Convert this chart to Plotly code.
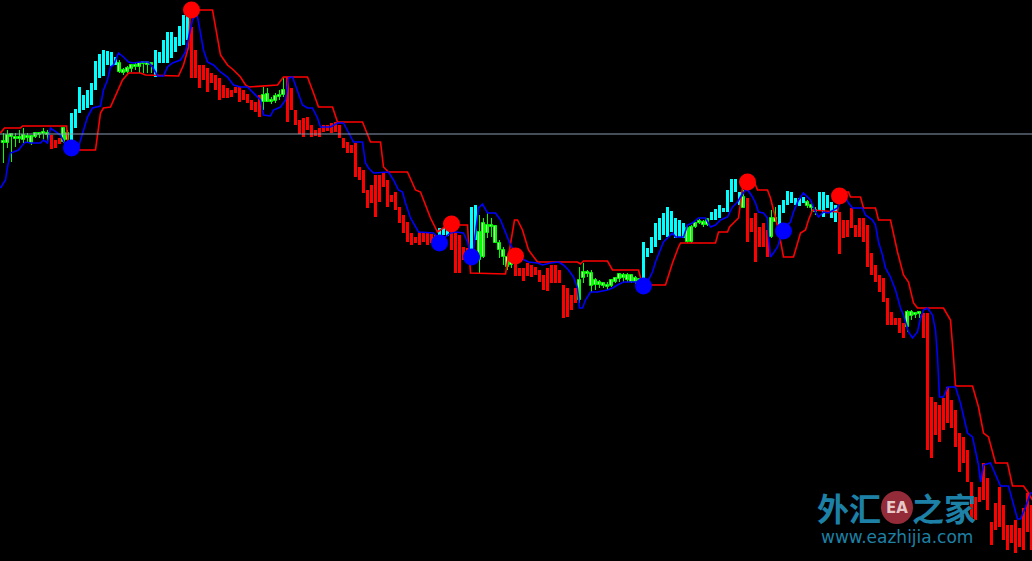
import plotly.graph_objects as go

# ---- bar states: g = plain candle, r = down-trend bar, c = up-trend bar ----
trend = ("gggggggggggg" "rrr" "gg" "cccccccccccc" "ggggggggg" "ccccccccc"
         "rrrrrrrrrrrrrrrrrr" "gggggg"
         "rrrrrrrrrr" "rrrrrrrrrr" "rrrrrrrrrr" "rrrrrrrr"
         "ccc" "rrrrr" "cc" "ggggggggg" "rrrrrrrrrr" "rrrrrr"
         "gggggggggg" "gggggg" "cccccccccc" "c" "gggggg" "cccccccc" "g"
         "rrrrrr" "gg" "ccccccc" "ggg" "ccccc" "rrrrrrrrrr" "rrrrrrr" "gggg"
         "rrrrrrrrrr" "rrrrrrrrrr" "rrrrrrrr")

opens = [418,426,424,422,424,421,425,418,424,426,428,426,
         426,421,423, 419,428,
         421,433,448,451,453,456,471,483,485,496,495,496,
         489,491,489,492,494,494,497,499,496,
         484,498,498,498,503,509,515,516,521,
         534,511,496,496,493,488,486,483,476,473,471,474,474,471,467,461,459,466,
         459,467,459,460,464,466,
         484,473,451,441,443,444,436,431,433,436,436,438,439,436,423,419,416,418,394,391,
         371,376,386,386,388,381,366,369,354,346,339,328,324,329,329,328,327,326,
         323,326,325, 331,328,326,314,313, 304,321,
         301,304,328,336,335,318,311,304,303,
         301,293,293,298,296,294,291,286,293,296,296,291,276,273,266,273,
         261,283,287,288,276,279,275,276,275,279,282,286,281,286,283,282,
         278,304,308,314,321,326,324,329,323,324,323,
         319,319,334,338,339,336,
         341,341,343,349,349,359,369,356, 364,
         363,343,348,334,338,331, 324,339,
         331,348,356,358,356,355,358, 355,356,351, 351,344,353,343,339,
         349,341,341,353,336,343,343,336,308,296,286,283,263,249,243,243,238,
         234,245,246,247,
         248,248,164,159,156,163,174,161,151,128,124,111,79,64,74,98,83,39,58,74,
         56,36,36,41,33,53,68,56]

closes = [420,418,427,424,422,426,423,425,428,428,427,428,
          412,413,417, 433,421,
          448,452,474,466,471,478,500,507,511,510,509,504,
          498,488,493,496,496,498,499,496,497,
          511,509,521,529,529,524,535,546,548,
          483,483,473,481,469,478,471,461,463,463,464,468,459,461,458,451,449,444,
          466,459,461,465,466,471,
          439,451,436,427,424,431,424,425,424,429,430,428,429,423,413,408,408,384,381,368,
          353,358,344,359,374,354,359,351,338,328,319,316,318,316,319,316,318,316,
          333,333,331, 311,288,288,301,304, 354,356,
          329,338,336,334,318,311,304,294,296,
          285,285,280,285,284,286,279,271,270,278,278,278,243,244,251,258,
          281,289,289,275,281,276,278,274,281,283,287,283,286,279,279,278,
          319,313,324,338,343,348,354,350,343,341,338,
          333,334,338,340,336,342,
          349,352,356,353,371,382,382,369, 353,
          319,329,299,314,314,304, 343,343,
          356,361,370,369,363,363,364, 359,353,349, 369,369,366,359,356,
          307,323,324,333,324,324,319,294,286,279,269,259,236,236,236,228,223,
          249,249,247,248,
          223,111,103,126,119,131,138,133,114,89,98,79,41,41,59,61,51,16,31,34,
          21,11,18,8,14,11,29,11]

highs = [428,431,428,428,431,433,428,426,429,429,433,431,
         426,421,423, 434,431,
         448,452,474,466,471,478,500,507,511,510,509,504,
         501,493,495,497,498,499,500,500,498,
         511,509,521,529,529,524,535,546,548,
         534,511,496,496,493,488,486,483,476,473,471,474,474,471,467,461,459,466,
         474,473,464,468,471,483,
         484,473,451,441,443,444,436,431,433,436,436,438,439,436,423,419,416,418,394,391,
         371,376,386,386,388,381,366,369,354,346,339,328,324,329,329,328,327,326,
         333,333,331, 331,328,326,314,313, 354,356,
         346,343,348,343,336,321,314,306,306,
         301,293,293,298,296,294,291,286,293,296,296,291,276,273,266,273,
         294,298,291,291,283,281,279,279,281,284,288,288,288,286,285,283,
         319,313,324,338,343,348,354,350,343,341,338,
         336,336,339,342,341,343,
         349,352,356,353,371,382,382,369, 371,
         363,343,348,334,338,331, 351,354,
         356,361,370,369,363,363,364, 361,360,354, 369,369,366,359,356,
         349,341,341,353,336,343,343,336,308,296,286,283,263,249,243,243,238,
         251,251,249,250,
         248,248,164,159,156,163,174,161,151,128,124,111,79,64,74,98,83,39,58,74,
         56,36,36,41,33,53,68,56]

lows = [398,413,399,414,418,418,418,416,423,423,421,419,
        412,413,417, 418,419,
        421,433,448,451,453,456,471,483,485,496,495,496,
        488,486,488,489,491,488,488,488,488,
        484,498,498,498,503,509,515,516,521,
        483,483,473,481,469,478,471,461,463,463,464,468,459,461,458,451,449,444,
        451,459,457,458,461,464,
        439,451,436,427,424,431,424,425,424,429,430,428,429,423,413,408,408,384,381,368,
        353,358,344,359,374,354,359,351,338,328,319,316,318,316,319,316,318,316,
        323,326,325, 311,288,288,301,304, 304,321,
        288,303,323,324,318,303,296,291,293,
        285,285,280,285,284,286,279,271,270,278,278,278,243,244,251,258,
        258,278,284,269,271,273,273,271,274,278,279,279,279,278,277,275,
        278,304,308,314,321,326,324,329,323,324,323,
        318,318,333,337,334,335,
        341,341,343,349,349,359,369,356, 353,
        319,329,299,314,314,304, 323,339,
        331,348,356,358,356,355,358, 353,348,346, 351,344,353,343,339,
        307,323,324,333,324,324,319,294,286,279,269,259,236,236,236,228,223,
        229,241,243,243,
        223,111,103,126,119,131,138,133,114,89,98,79,41,41,59,61,51,16,31,34,
        21,11,18,8,14,11,29,11]

# ---- trailing stop (red) and signal line (blue): vertices (bar position, price) ----
stop_x = [-0.75,0.25,4.25,4.75,15.75,16.25,23,24.25,25,26.75,29.75,31.25,34.25,35.5,43.75,45,46.25,46.75,
          52.25,54.25,56,57.5,59.25,60.5,61.25,68.5,70,76,77.5,78.75,82.25,83.5,89.75,91.75,94.25,95,96.25,
          101,103,104.25,106.75,108.5,111,116,116.75,125.5,127.75,128.5,129.75,131.25,133.5,143.5,144.25,145,
          151,152.25,158.75,159.75,165.5,167.25,168.75,169.25,178,178.75,181,181.5,183.75,185,187.5,188.5,191,
          191.75,192.5,193.75,195,197.5,199.25,200.5,201.25,202.25,208.5,209.25,211.25,211.75,214.25,215,218,
          218.75,221.75,223.5,225,226.25,227.5,228.5,235,236.75,237.5,238,242.25,243.75,245,246.25,248,251,
          252.25,255,256.25,257.25]
stop_y = [428,433,433,435,435,411,411,448,453,454,481,488,488,486,485,496,514,551,
          551,506,496,491,484,476,474,476,484,484,468,454,454,439,439,419,419,394,389,
          389,371,369,343,329,336,336,288,287,341,341,331,311,299,299,297,300,
          300,291,291,276,276,298,314,318,318,329,329,334,343,381,381,371,371,
          363,351,331,304,304,328,331,341,351,349,369,369,364,364,353,353,
          341,341,309,286,279,258,253,253,241,204,175,175,154,128,124,98,98,
          75,75,68,61]

sig_x = [-0.75,0.5,1,1.75,2.5,3.75,4.75,5.5,6.75,9.25,10,11,11.75,12.5,14.25,15.5,16.75,18.75,20,21,22.25,
         24.25,25,26,26.75,27.5,28.75,30,31.25,32.5,34.25,36.25,37.25,38.5,40,41,42.25,44.25,45.5,46.25,47.25,
         48,48.5,49.25,50,51,52.5,54.25,56,57.5,59.25,61,62.5,64.25,65,66.75,67.5,69.25,70.5,71.25,72.25,73.5,
         74.75,76,77.25,78.5,79.25,81.75,83.5,85,86.25,87.5,89.75,90.5,91.25,92.5,96.25,97.5,98.75,99.75,100.5,
         101.75,103.75,107.5,109.25,110.5,111.75,113,115,116,116.75,117.5,118.75,119.75,121,123,124.25,125.5,
         126.75,128,129.25,131.25,133.5,134.75,136.75,138.75,140,141.25,142.5,143.5,144,144.75,145.5,146.75,
         148.5,151,152.25,153.5,155,158.5,160,161.25,162.25,163,164.25,165,166.25,167.25,168,170,171,172.25,
         173.75,175.5,176.75,178,179.25,181,182.25,183.5,184.25,185,185.5,186.25,187.25,188,188.75,190,191,
         191.25,191.75,192.5,193.5,194.75,195.5,196.75,197.5,198.75,200,201.75,203,203.75,205,206.25,208.5,
         209.25,210.5,211.25,212.25,214.75,215.5,217.25,218,218.75,219.75,220.5,221.75,223,224.25,225,226.25,
         227.25,228.5,229.25,230,231,232.25,233,233.5,234,235,236,238,239.25,241,242.25,243.75,244.25,245,
         246.75,248.5,249.25,251.25,252.5,253.5,254.25,255.5,256.75,257.25]
sig_y = [373,381,394,408,409,411,416,419,418,418,421,418,433,431,426,416,411,414,431,444,453,
         455,471,481,494,496,508,504,499,498,499,499,494,485,485,494,498,501,509,524,541,
         546,544,528,511,499,496,489,484,476,474,474,468,461,446,445,451,454,461,483,484,469,
         456,453,453,443,434,434,438,438,428,419,419,398,393,388,389,381,371,369,358,
         343,329,328,321,324,328,329,328,319,306,311,353,357,348,348,341,328,
         316,308,303,299,298,296,298,299,296,291,284,273,253,253,261,269,
         269,271,273,276,279,279,275,281,289,299,311,319,324,328,324,324,336,338,
         343,343,334,336,341,344,354,359,364,368,371,370,364,358,349,348,343,
         324,304,308,314,329,334,339,349,361,368,361,349,344,349,348,353,
         361,364,358,353,353,346,341,336,319,306,293,284,271,253,246,229,
         223,229,243,251,253,246,231,204,164,164,174,174,158,128,124,96,79,96,
         98,83,75,75,56,42,42,54,68,68]

# ---- signal dots ----
sell_bar = [47, 112, 128, 186, 209]
sell_price = [551, 337, 305, 379, 365]
buy_bar = [17, 109, 117, 160, 195]
buy_price = [413, 318, 304, 275, 330]

ref_level = 427  # horizontal line price

n = len(trend)
assert n == len(opens) == len(closes) == len(highs) == len(lows), (n, len(opens), len(closes), len(highs), len(lows))

fig = go.Figure()

def thick(state, color):
    xs = [i for i in range(n) if trend[i] == state]
    lo = [lows[i] for i in xs]
    hi = [highs[i] for i in xs]
    fig.add_trace(go.Bar(x=xs, y=[h - l for h, l in zip(hi, lo)], base=lo, width=0.75,
                         marker=dict(color=color, line=dict(width=0))))

thick("r", "#ff0000")
thick("c", "#00ffff")

# plain candles
gx = [i for i in range(n) if trend[i] == "g"]
wx, wy = [], []
for i in gx:
    wx += [i, i, None]
    wy += [lows[i], highs[i], None]
fig.add_trace(go.Scatter(x=wx, y=wy, mode="lines", line=dict(color="#00ff00", width=1)))
body_lo = [min(opens[i], closes[i]) for i in gx]
body_h = [max(abs(closes[i] - opens[i]), 2) for i in gx]
fig.add_trace(go.Bar(x=gx, y=body_h, base=body_lo, width=0.75,
                     marker=dict(color="#b8ff9a", line=dict(color="#00ff00", width=1))))

fig.add_trace(go.Scatter(x=stop_x, y=stop_y, mode="lines", line=dict(color="#ff0000", width=1.6)))
fig.add_trace(go.Scatter(x=sig_x, y=sig_y, mode="lines", line=dict(color="#0000ff", width=1.6)))

fig.add_trace(go.Scatter(x=sell_bar, y=sell_price, mode="markers",
                         marker=dict(color="#ff0000", size=17, line=dict(width=0))))
fig.add_trace(go.Scatter(x=buy_bar, y=buy_price, mode="markers",
                         marker=dict(color="#0000ff", size=17, line=dict(width=0))))

W, H = 1032, 561
fig.add_shape(type="line", xref="paper", x0=0, x1=1, y0=ref_level, y1=ref_level,
              line=dict(color="#8a9bb0", width=1))

# watermark
teal = "#1d80a6"
fig.add_shape(type="circle", xref="paper", yref="paper",
              x0=881 / W, x1=913 / W, y0=1 - 524 / H, y1=1 - 491 / H,
              fillcolor="#a3303e", line=dict(width=0), opacity=0.9)
wm = dict(xref="paper", yref="paper", showarrow=False, xanchor="center", yanchor="middle")
fig.add_annotation(x=849 / W, y=1 - 507 / H, text="外汇",
                   font=dict(family="Noto Sans CJK SC", size=32, color=teal, weight="bold"), **wm)
fig.add_annotation(x=897 / W, y=1 - 508 / H, text="EA",
                   font=dict(family="DejaVu Sans", size=15, color="#e6c8c8", weight="bold"), **wm)
fig.add_annotation(x=944 / W, y=1 - 507 / H, text="之家",
                   font=dict(family="Noto Sans CJK SC", size=32, color=teal, weight="bold"), **wm)
fig.add_annotation(x=897 / W, y=1 - 537 / H, text="www.eazhijia.com",
                   font=dict(family="DejaVu Sans", size=17, color=teal), **wm)

fig.update_layout(
    width=W, height=H, margin=dict(l=0, r=0, t=0, b=0),
    paper_bgcolor="#000000", plot_bgcolor="#000000",
    barmode="overlay", bargap=0, showlegend=False, hovermode=False,
    xaxis=dict(range=[-0.875, n - 0.875], visible=False, fixedrange=True),
    yaxis=dict(range=[0, 561], visible=False, fixedrange=True),
)

fig.write_html("out.html", config={"displayModeBar": False},
               post_script="document.body.style.margin='0';document.body.style.background='#000';")
